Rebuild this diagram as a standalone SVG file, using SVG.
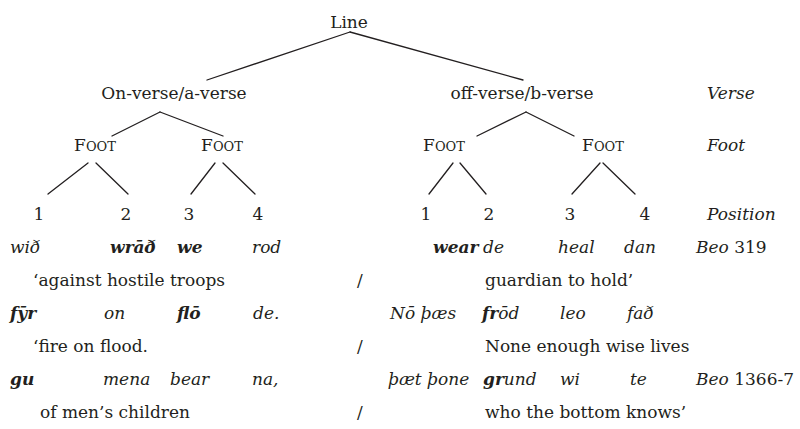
<svg xmlns="http://www.w3.org/2000/svg" width="800" height="429" viewBox="0 0 800 429">
<style>
text{font-family:'DejaVu Serif',serif;font-size:17px;fill:#231f20}
.i{font-style:italic}
.b{font-weight:bold}
.m{text-anchor:middle}
.c line{stroke:#231f20;stroke-width:1.3;stroke-linecap:round}
</style>
<rect width="800" height="429" fill="#fff"/>
<g class="c" id="connectors">
<line x1="350" y1="32" x2="207" y2="80"/>
<line x1="350" y1="32" x2="523" y2="80"/>
<line x1="160" y1="112" x2="112" y2="136"/>
<line x1="160" y1="112" x2="223" y2="136"/>
<line x1="526" y1="112" x2="477" y2="136"/>
<line x1="526" y1="112" x2="574" y2="136"/>
<line x1="88" y1="163" x2="48" y2="194"/>
<line x1="96" y1="163" x2="128" y2="194"/>
<line x1="215" y1="163" x2="191" y2="194"/>
<line x1="223" y1="163" x2="255" y2="194"/>
<line x1="453" y1="163" x2="429" y2="194"/>
<line x1="460" y1="163" x2="486" y2="194"/>
<line x1="600" y1="163" x2="572" y2="194"/>
<line x1="603" y1="163" x2="635" y2="194"/>
</g>
<g id="line"><text class="m" x="349" y="28">Line</text></g>
<g id="onverse"><text class="m" x="174" y="99">On-verse/a-verse</text></g>
<g id="offverse"><text class="m" x="522" y="99">off-verse/b-verse</text></g>
<g id="foot1"><text class="m" x="95" y="151">F<tspan font-size="13">OOT</tspan></text></g>
<g id="foot2"><text class="m" x="222" y="151">F<tspan font-size="13">OOT</tspan></text></g>
<g id="foot3"><text class="m" x="444" y="151">F<tspan font-size="13">OOT</tspan></text></g>
<g id="foot4"><text class="m" x="603" y="151">F<tspan font-size="13">OOT</tspan></text></g>
<g id="pos1"><text class="m" x="39" y="220">1</text></g>
<g id="pos2"><text class="m" x="126" y="220">2</text></g>
<g id="pos3"><text class="m" x="189" y="220">3</text></g>
<g id="pos4"><text class="m" x="258" y="220">4</text></g>
<g id="pos5"><text class="m" x="426" y="220">1</text></g>
<g id="pos6"><text class="m" x="489" y="220">2</text></g>
<g id="pos7"><text class="m" x="570" y="220">3</text></g>
<g id="pos8"><text class="m" x="645" y="220">4</text></g>
<g id="levels">
<text class="i" x="707" y="99">Verse</text>
<text class="i" x="707" y="151">Foot</text>
<text class="i" x="707" y="220">Position</text>
</g>
<g id="verse1">
<text class="i" x="10" y="253">wið</text>
<text class="i b" x="110" y="253">wrāð</text>
<text class="i b" x="177" y="253">we</text>
<text class="i" x="252" y="253">rod</text>
<text class="i b" x="433" y="253">wear</text>
<text class="i" x="483" y="253">de</text>
<text class="i" x="558" y="253">heal</text>
<text class="i" x="624" y="253">dan</text>
<text x="696" y="253"><tspan class="i">Beo</tspan> 319</text>
<text x="33" y="286">‘against hostile troops</text>
<text x="357" y="286">/</text>
<text x="485" y="286">guardian to hold’</text>
</g>
<g id="verse2">
<text class="i b" x="10" y="319">fȳr</text>
<text class="i" x="104" y="319">on</text>
<text class="i b" x="177" y="319">flō</text>
<text class="i" x="253" y="319">de.</text>
<text class="i" x="390" y="319">Nō þæs</text>
<text class="i" x="482" y="319"><tspan class="b">fr</tspan>ōd</text>
<text class="i" x="560" y="319">leo</text>
<text class="i" x="627" y="319">fað</text>
<text x="33" y="352">‘fire on flood.</text>
<text x="357" y="352">/</text>
<text x="485" y="352">None enough wise lives</text>
</g>
<g id="verse3">
<text class="i b" x="10" y="385">gu</text>
<text class="i" x="103" y="385">mena</text>
<text class="i" x="170" y="385">bear</text>
<text class="i" x="252" y="385">na,</text>
<text class="i" x="388" y="385">þæt þone</text>
<text class="i" x="483" y="385"><tspan class="b">gr</tspan>und</text>
<text class="i" x="560" y="385">wi</text>
<text class="i" x="630" y="385">te</text>
<text x="696" y="385"><tspan class="i">Beo</tspan> 1366-7</text>
<text x="40" y="418">of men’s children</text>
<text x="357" y="418">/</text>
<text x="485" y="418">who the bottom knows’</text>
</g>
</svg>
